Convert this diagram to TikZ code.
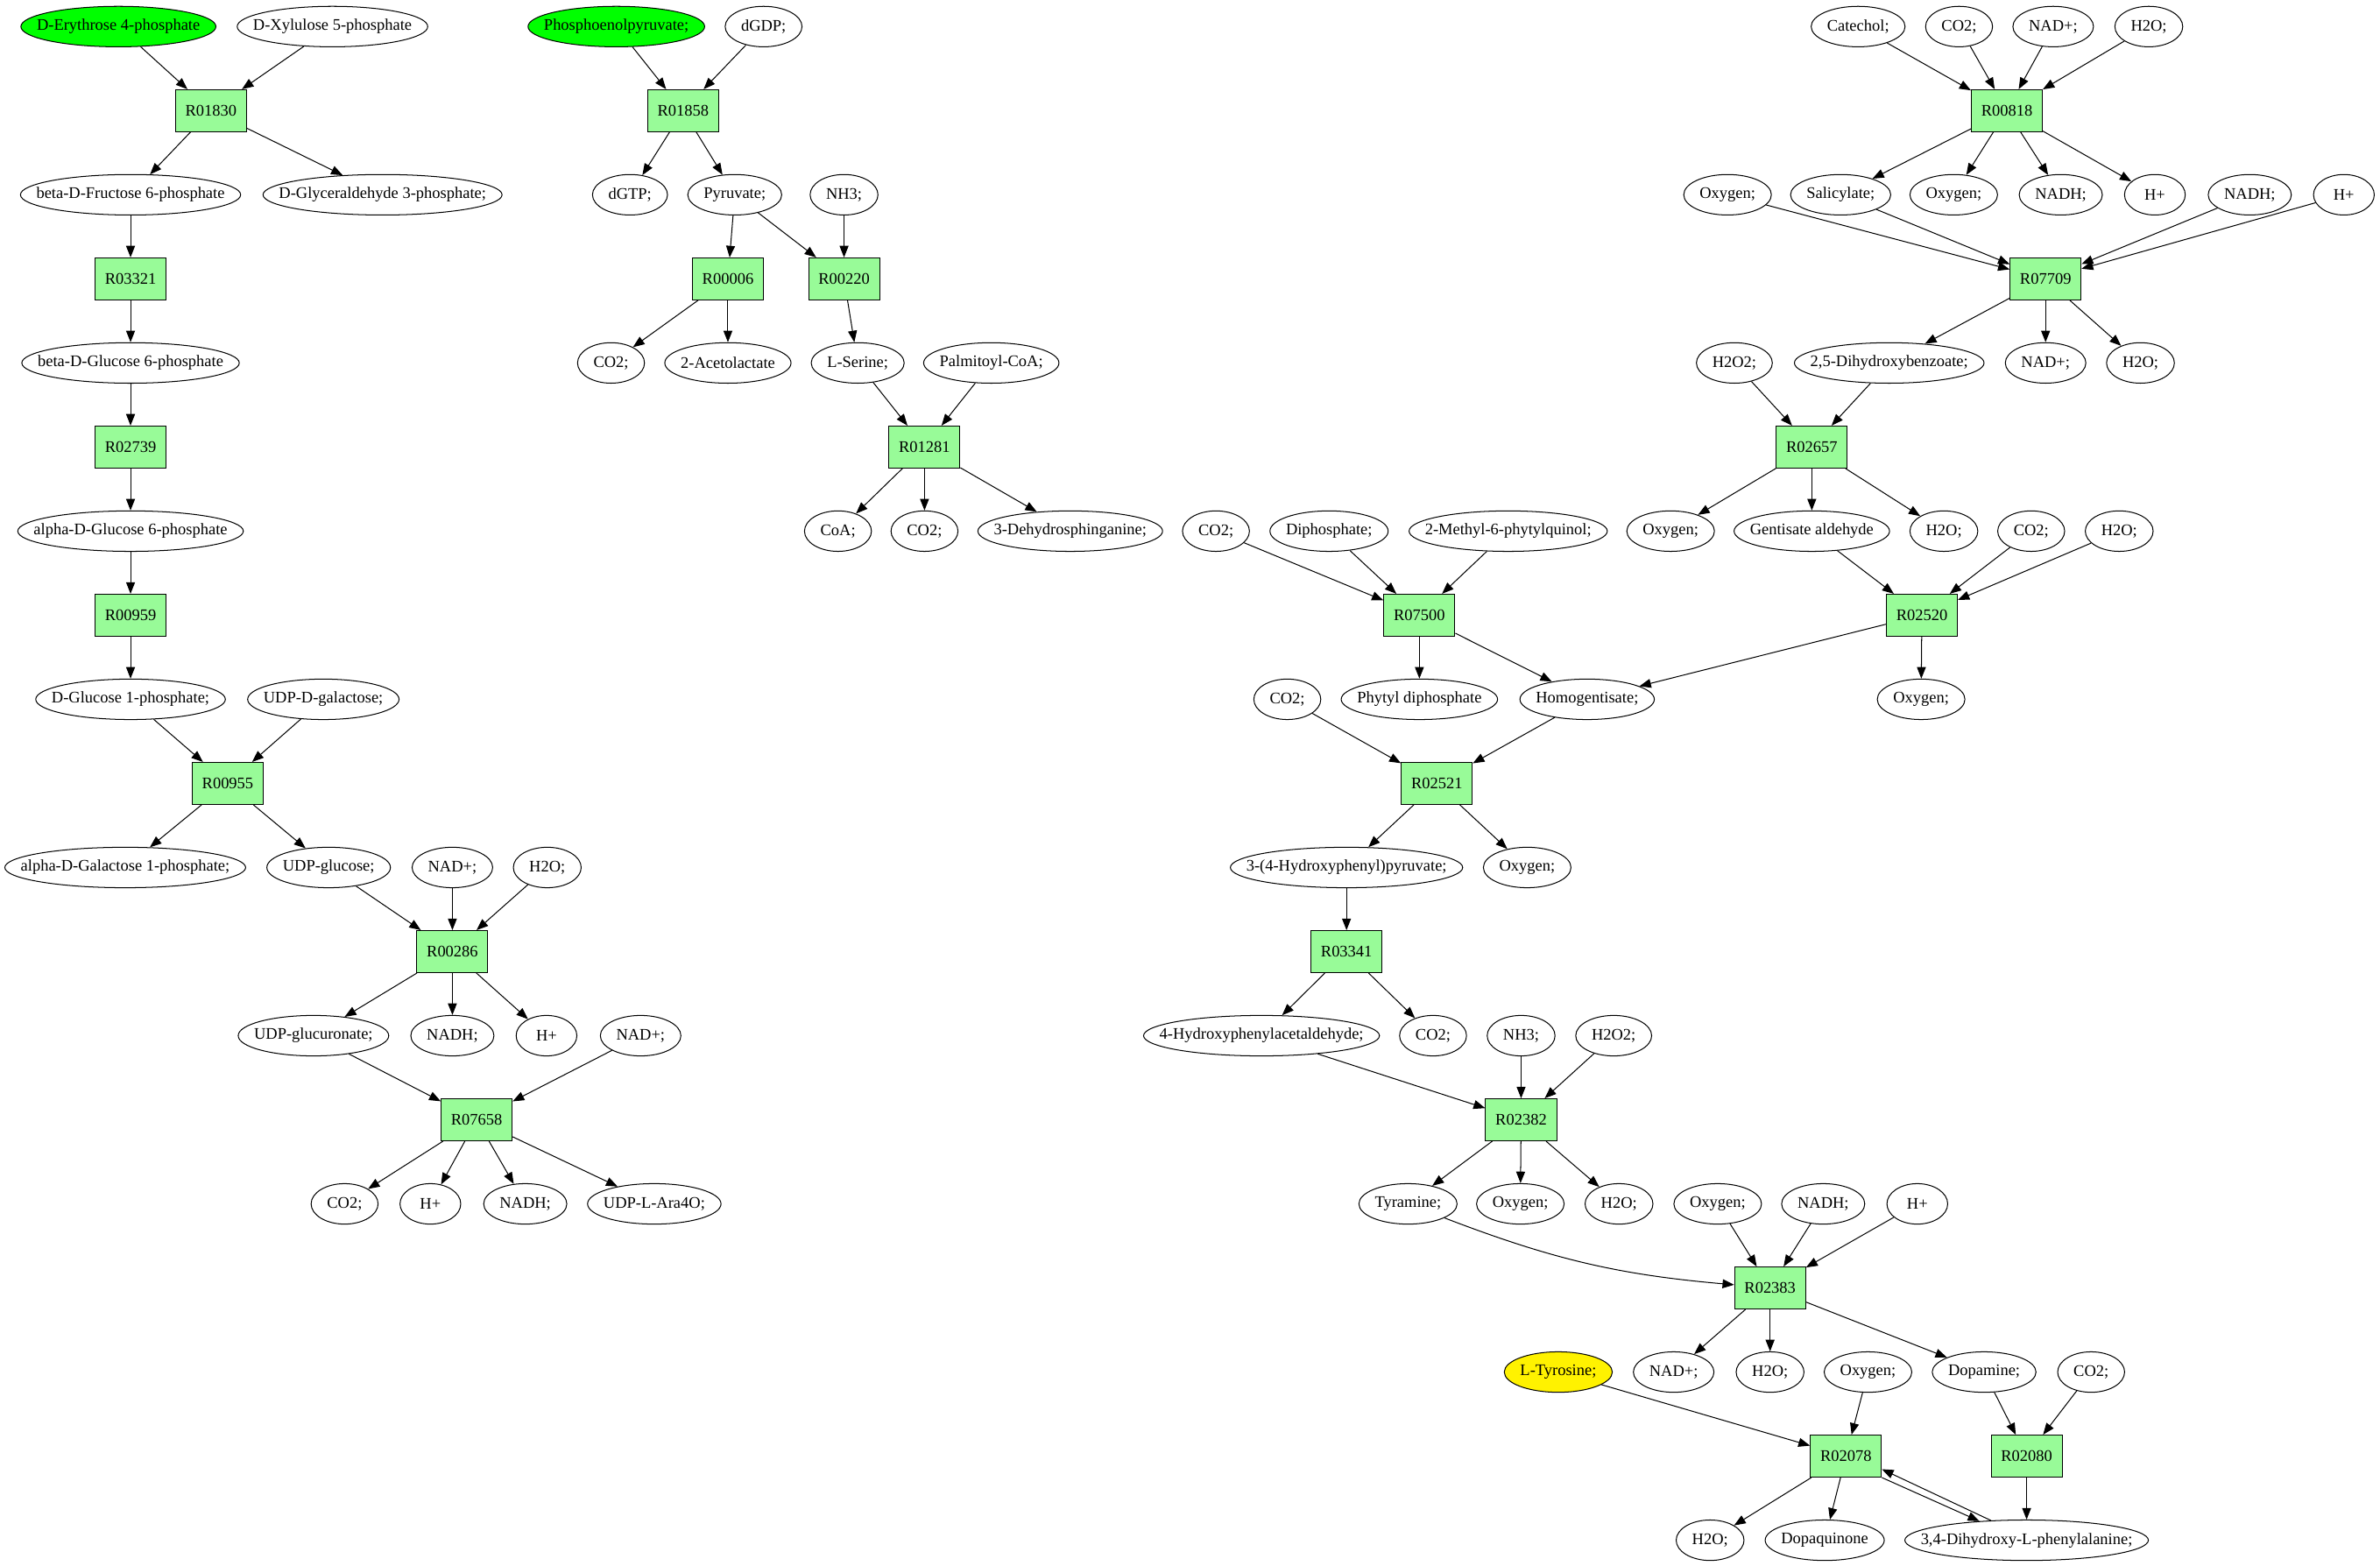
\documentclass[tikz,border=0pt]{standalone}
\usepackage{fontspec}
\setmainfont{Liberation Serif}
\usetikzlibrary{shapes.geometric,arrows.meta}
\definecolor{rxngreen}{RGB}{152,251,152}
\tikzset{
  met/.style={ellipse,draw=black,inner xsep=-14pt,inner ysep=0pt,minimum height=0.8cm,
    minimum width={max(\wd\pgfnodeparttextbox+0.63cm,1.2cm)}},
  rxn/.style={rectangle,draw=black,fill=rxngreen,inner xsep=0.195cm,minimum height=0.83cm},
}
\begin{document}
\begin{tikzpicture}[x=0.03cm,y=-1.662cm,line width=0.5pt,
    every node/.style={font=\fontsize{9.1}{11}\selectfont},
    >={Triangle[length=6.5pt,width=5pt]}]
        \useasboundingbox (0,-0.316) rectangle (1567.8,18.298);

        % left branch
        \node[met,fill=green] (E4P)    at ( 78.0, 0) {D-Erythrose 4-phosphate};
        \node[met]            (Xu5P)   at (219.0, 0) {D-Xylulose 5-phosphate};
        \node[rxn]            (R01830) at (139.0, 1) {R01830};
        \node[met]            (F6P)    at ( 86.0, 2) {beta-D-Fructose 6-phosphate};
        \node[met]            (GAP)    at (252.0, 2) {D-Glyceraldehyde 3-phosphate;};
        \node[rxn]            (R03321) at ( 86.0, 3) {R03321};
        \node[met]            (bG6P)   at ( 86.0, 4) {beta-D-Glucose 6-phosphate};
        \node[rxn]            (R02739) at ( 86.0, 5) {R02739};
        \node[met]            (aG6P)   at ( 86.0, 6) {alpha-D-Glucose 6-phosphate};
        \node[rxn]            (R00959) at ( 86.0, 7) {R00959};
        \node[met]            (G1P)    at ( 86.0, 8) {D-Glucose 1-phosphate;};
        \node[met]            (UDPGal) at (213.0, 8) {UDP-D-galactose;};
        \node[rxn]            (R00955) at (150.0, 9) {R00955};
        \node[met]            (Gal1P)  at ( 82.5,10) {alpha-D-Galactose 1-phosphate;};
        \node[met]            (UDPGlc) at (216.5,10) {UDP-glucose;};
        \node[met]            (NADa)   at (298.0,10) {NAD+;};
        \node[met]            (H2Oa)   at (360.5,10) {H2O;};
        \node[rxn]            (R00286) at (298.0,11) {R00286};
        \node[met]            (UDPGlcA) at (206.5,12) {UDP-glucuronate;};
        \node[met]            (NADHa)  at (298.0,12) {NADH;};
        \node[met]            (Ha)     at (360.0,12) {H+};
        \node[met]            (NADb)   at (422.0,12) {NAD+;};
        \node[rxn]            (R07658) at (314.0,13) {R07658};
        \node[met]            (CO2a)   at (227.0,14) {CO2;};
        \node[met]            (Hb)     at (283.5,14) {H+};
        \node[met]            (NADHb)  at (346.0,14) {NADH;};
        \node[met]            (UDPAra) at (431.0,14) {UDP-L-Ara4O;};

        % middle branch
        \node[met,fill=green] (PEP)    at (406.0, 0) {Phosphoenolpyruvate;};
        \node[met]            (dGDP)   at (503.0, 0) {dGDP;};
        \node[rxn]            (R01858) at (450.0, 1) {R01858};
        \node[met]            (dGTP)   at (415.0, 2) {dGTP;};
        \node[met]            (Pyr)    at (484.0, 2) {Pyruvate;};
        \node[met]            (NH3a)   at (556.0, 2) {NH3;};
        \node[rxn]            (R00006) at (479.5, 3) {R00006};
        \node[rxn]            (R00220) at (556.0, 3) {R00220};
        \node[met]            (CO2b)   at (402.5, 4) {CO2;};
        \node[met]            (Acl)    at (479.5, 4) {2-Acetolactate};
        \node[met]            (Ser)    at (565.0, 4) {L-Serine;};
        \node[met]            (PCoA)   at (653.0, 4) {Palmitoyl-CoA;};
        \node[rxn]            (R01281) at (609.0, 5) {R01281};
        \node[met]            (CoA)    at (552.0, 6) {CoA;};
        \node[met]            (CO2c)   at (609.0, 6) {CO2;};
        \node[met]            (KDS)    at (705.0, 6) {3-Dehydrosphinganine;};

        % right branch
        \node[met]            (Cat)    at (1224.0, 0) {Catechol;};
        \node[met]            (CO2d)   at (1290.5, 0) {CO2;};
        \node[met]            (NADc)   at (1352.5, 0) {NAD+;};
        \node[met]            (H2Ob)   at (1415.5, 0) {H2O;};
        \node[rxn]            (R00818) at (1322.0, 1) {R00818};
        \node[met]            (O2a)    at (1138.0, 2) {Oxygen;};
        \node[met]            (Sal)    at (1212.5, 2) {Salicylate;};
        \node[met]            (O2b)    at (1287.0, 2) {Oxygen;};
        \node[met]            (NADHc)  at (1357.5, 2) {NADH;};
        \node[met]            (Hc)     at (1419.5, 2) {H+};
        \node[met]            (NADHd)  at (1482.0, 2) {NADH;};
        \node[met]            (Hd)     at (1544.0, 2) {H+};
        \node[rxn]            (R07709) at (1347.5, 3) {R07709};
        \node[met]            (H2O2a)  at (1142.5, 4) {H2O2;};
        \node[met]            (DHB)    at (1244.5, 4) {2,5-Dihydroxybenzoate;};
        \node[met]            (NADd)   at (1347.5, 4) {NAD+;};
        \node[met]            (H2Oc)   at (1410.0, 4) {H2O;};
        \node[rxn]            (R02657) at (1193.5, 5) {R02657};
        \node[met]            (CO2e)   at ( 801.0, 6) {CO2;};
        \node[met]            (Dip)    at ( 875.5, 6) {Diphosphate;};
        \node[met]            (MPQ)    at ( 993.5, 6) {2-Methyl-6-phytylquinol;};
        \node[met]            (O2c)    at (1100.5, 6) {Oxygen;};
        \node[met]            (GenA)   at (1193.5, 6) {Gentisate aldehyde};
        \node[met]            (H2Od)   at (1280.5, 6) {H2O;};
        \node[met]            (CO2f)   at (1338.0, 6) {CO2;};
        \node[met]            (H2Oe)   at (1396.0, 6) {H2O;};
        \node[rxn]            (R07500) at ( 935.0, 7) {R07500};
        \node[rxn]            (R02520) at (1266.0, 7) {R02520};
        \node[met]            (CO2g)   at ( 848.0, 8) {CO2;};
        \node[met]            (PhyDP)  at ( 935.0, 8) {Phytyl diphosphate};
        \node[met]            (HGA)    at (1045.5, 8) {Homogentisate;};
        \node[met]            (O2d)    at (1265.5, 8) {Oxygen;};
        \node[rxn]            (R02521) at ( 946.5, 9) {R02521};
        \node[met]            (HPP)    at ( 887.0,10) {3-(4-Hydroxyphenyl)pyruvate;};
        \node[met]            (O2e)    at (1006.0,10) {Oxygen;};
        \node[rxn]            (R03341) at ( 887.0,11) {R03341};
        \node[met]            (HPAA)   at ( 831.0,12) {4-Hydroxyphenylacetaldehyde;};
        \node[met]            (CO2h)   at ( 944.0,12) {CO2;};
        \node[met]            (NH3b)   at (1002.0,12) {NH3;};
        \node[met]            (H2O2b)  at (1063.0,12) {H2O2;};
        \node[rxn]            (R02382) at (1002.0,13) {R02382};
        \node[met]            (Tyra)   at ( 927.5,14) {Tyramine;};
        \node[met]            (O2f)    at (1001.5,14) {Oxygen;};
        \node[met]            (H2Of)   at (1066.5,14) {H2O;};
        \node[met]            (O2g)    at (1131.5,14) {Oxygen;};
        \node[met]            (NADHe)  at (1201.0,14) {NADH;};
        \node[met]            (He)     at (1263.0,14) {H+};
        \node[rxn]            (R02383) at (1166.0,15) {R02383};
        \node[met,fill=yellow] (LTyr)  at (1026.5,16) {L-Tyrosine;};
        \node[met]            (NADe)   at (1102.5,16) {NAD+;};
        \node[met]            (H2Og)   at (1166.0,16) {H2O;};
        \node[met]            (O2h)    at (1230.5,16) {Oxygen;};
        \node[met]            (DA)     at (1307.0,16) {Dopamine;};
        \node[met]            (CO2i)   at (1377.5,16) {CO2;};
        \node[rxn]            (R02078) at (1216.0,17) {R02078};
        \node[rxn]            (R02080) at (1335.0,17) {R02080};
        \node[met]            (H2Oh)   at (1126.5,18) {H2O;};
        \node[met]            (DQ)     at (1202.0,18) {Dopaquinone};
        \node[met]            (DOPA)   at (1335.0,18) {3,4-Dihydroxy-L-phenylalanine;};

        % left edges
        \draw[->] (E4P) to (R01830);
        \draw[->] (Xu5P) to (R01830);
        \draw[->] (R01830) to (F6P);
        \draw[->] (R01830) to (GAP);
        \draw[->] (F6P) to (R03321);
        \draw[->] (R03321) to (bG6P);
        \draw[->] (bG6P) to (R02739);
        \draw[->] (R02739) to (aG6P);
        \draw[->] (aG6P) to (R00959);
        \draw[->] (R00959) to (G1P);
        \draw[->] (G1P) to (R00955);
        \draw[->] (UDPGal) to (R00955);
        \draw[->] (R00955) to (Gal1P);
        \draw[->] (R00955) to (UDPGlc);
        \draw[->] (UDPGlc) to (R00286);
        \draw[->] (NADa) to (R00286);
        \draw[->] (H2Oa) to (R00286);
        \draw[->] (R00286) to (UDPGlcA);
        \draw[->] (R00286) to (NADHa);
        \draw[->] (R00286) to (Ha);
        \draw[->] (UDPGlcA) to (R07658);
        \draw[->] (NADb) to (R07658);
        \draw[->] (R07658) to (CO2a);
        \draw[->] (R07658) to (Hb);
        \draw[->] (R07658) to (NADHb);
        \draw[->] (R07658) to (UDPAra);

        % middle edges
        \draw[->] (PEP) to (R01858);
        \draw[->] (dGDP) to (R01858);
        \draw[->] (R01858) to (dGTP);
        \draw[->] (R01858) to (Pyr);
        \draw[->] (Pyr) to (R00006);
        \draw[->] (Pyr) to (R00220);
        \draw[->] (NH3a) to (R00220);
        \draw[->] (R00006) to (CO2b);
        \draw[->] (R00006) to (Acl);
        \draw[->] (R00220) to (Ser);
        \draw[->] (Ser) to (R01281);
        \draw[->] (PCoA) to (R01281);
        \draw[->] (R01281) to (CoA);
        \draw[->] (R01281) to (CO2c);
        \draw[->] (R01281) to (KDS);

        % right edges
        \draw[->] (Cat) to (R00818);
        \draw[->] (CO2d) to (R00818);
        \draw[->] (NADc) to (R00818);
        \draw[->] (H2Ob) to (R00818);
        \draw[->] (R00818) to (Sal);
        \draw[->] (R00818) to (O2b);
        \draw[->] (R00818) to (NADHc);
        \draw[->] (R00818) to (Hc);
        \draw[->] (O2a) to (R07709);
        \draw[->] (Sal) to (R07709);
        \draw[->] (NADHd) to (R07709);
        \draw[->] (Hd) to (R07709);
        \draw[->] (R07709) to (DHB);
        \draw[->] (R07709) to (NADd);
        \draw[->] (R07709) to (H2Oc);
        \draw[->] (H2O2a) to (R02657);
        \draw[->] (DHB) to (R02657);
        \draw[->] (R02657) to (O2c);
        \draw[->] (R02657) to (GenA);
        \draw[->] (R02657) to (H2Od);
        \draw[->] (GenA) to (R02520);
        \draw[->] (CO2f) to (R02520);
        \draw[->] (H2Oe) to (R02520);
        \draw[->] (R02520) to (HGA);
        \draw[->] (R02520) to (O2d);
        \draw[->] (CO2e) to (R07500);
        \draw[->] (Dip) to (R07500);
        \draw[->] (MPQ) to (R07500);
        \draw[->] (R07500) to (PhyDP);
        \draw[->] (R07500) to (HGA);
        \draw[->] (CO2g) to (R02521);
        \draw[->] (HGA) to (R02521);
        \draw[->] (R02521) to (HPP);
        \draw[->] (R02521) to (O2e);
        \draw[->] (HPP) to (R03341);
        \draw[->] (R03341) to (HPAA);
        \draw[->] (R03341) to (CO2h);
        \draw[->] (HPAA) to (R02382);
        \draw[->] (NH3b) to (R02382);
        \draw[->] (H2O2b) to (R02382);
        \draw[->] (R02382) to (Tyra);
        \draw[->] (R02382) to (O2f);
        \draw[->] (R02382) to (H2Of);
        \draw[->] (Tyra) to[bend right=8] (R02383);
        \draw[->] (O2g) to (R02383);
        \draw[->] (NADHe) to (R02383);
        \draw[->] (He) to (R02383);
        \draw[->] (R02383) to (NADe);
        \draw[->] (R02383) to (H2Og);
        \draw[->] (R02383) to (DA);
        \draw[->] (LTyr) to (R02078);
        \draw[->] (O2h) to (R02078);
        \draw[->] (DA) to (R02080);
        \draw[->] (CO2i) to (R02080);
        \draw[->] (R02078) to (H2Oh);
        \draw[->] (R02078) to (DQ);
        \draw[->] (R02078.south east) to (DOPA.158);
        \draw[->] (DOPA.151) to (R02078.-20);
        \draw[->] (R02080) to (DOPA);
\end{tikzpicture}
\end{document}
